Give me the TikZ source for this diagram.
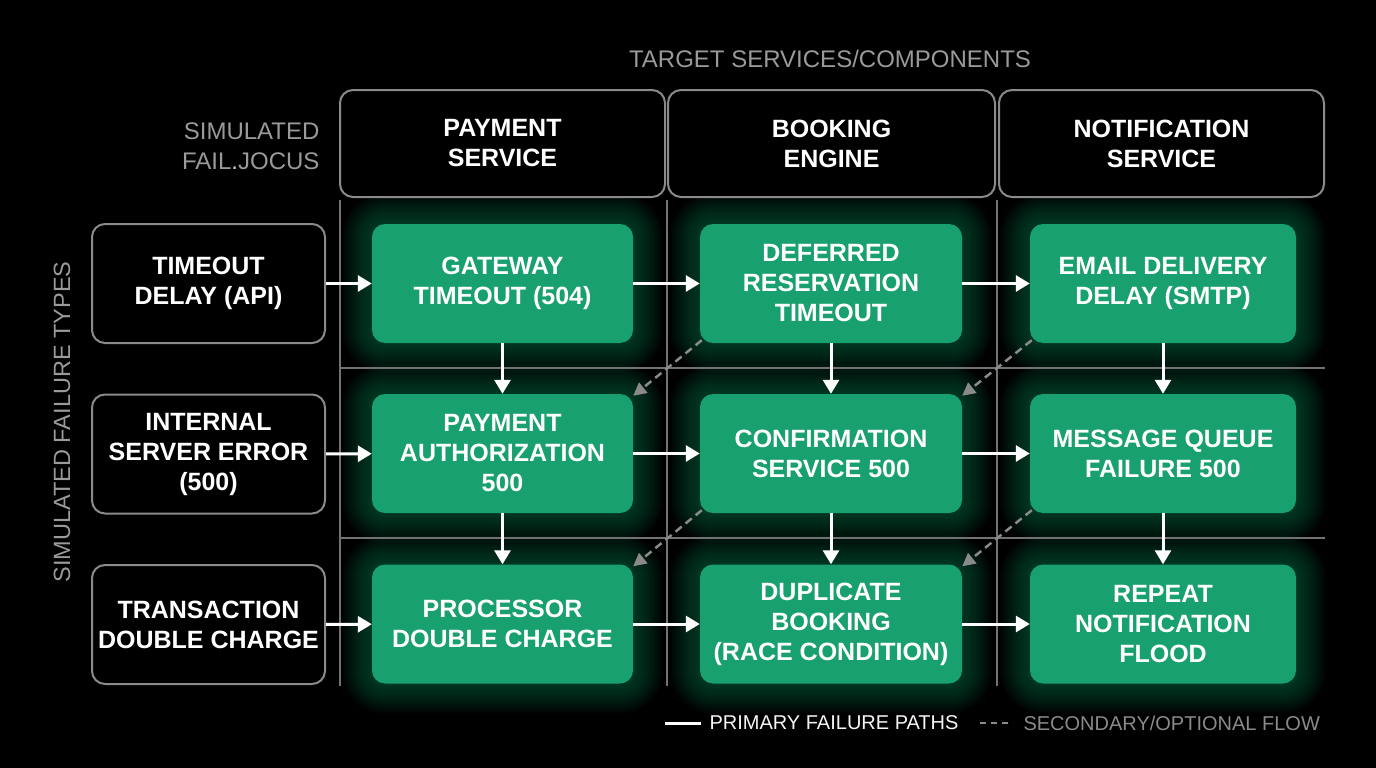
\documentclass[tikz,border=0pt]{standalone}
\usepackage{fontspec}
\setmainfont{Liberation Sans}
\usetikzlibrary{arrows.meta,calc}
\definecolor{boxgreen}{HTML}{18A06E}
\definecolor{glowg}{HTML}{10A068}
\definecolor{lgray}{HTML}{8A8A8A}
\definecolor{gridgray}{HTML}{727272}
\definecolor{txtgray}{HTML}{9A9A9A}
\pgfdeclarelayer{glowlayer}
\pgfsetlayers{glowlayer,main}
\tikzset{
 bigtxt/.style={font=\fontsize{25}{30}\selectfont\bfseries},
 hdr/.style={draw=lgray, line width=2pt, rounded corners=13pt, fill=black, text=white, bigtxt, align=center, minimum width=325pt, minimum height=107pt, inner sep=0pt},
 rowlbl/.style={draw=lgray, line width=2pt, rounded corners=13pt, fill=black, text=white, bigtxt, align=center, minimum width=233pt, minimum height=119pt, inner sep=0pt},
 gbox/.style={fill=boxgreen, rounded corners=13pt, text=white, bigtxt, align=center, minimum height=119pt, inner sep=0pt},
 parrow/.style={white, line width=3pt, -{Triangle[length=14pt,width=16pt]}},
 sarrow/.style={lgray, line width=2.5pt, dash pattern=on 8pt off 5pt, -{Triangle[length=13pt,width=13pt]}},
 gridl/.style={gridgray, line width=1.4pt},
 graytxt/.style={text=txtgray, font=\fontsize{24}{30}\selectfont},
}
\newcommand{\glowbox}[1]{%
 \begin{pgfonlayer}{glowlayer}
 \foreach \r in {2,4,...,30}{
  \fill[glowg, opacity=0.032, rounded corners={13pt+\r pt}] ($(#1.south west)+(-\r,\r)$) rectangle ($(#1.north east)+(\r,-\r)$);
 }
 \end{pgfonlayer}}
\begin{document}
\begin{tikzpicture}[x=1pt,y=-1pt]
\begin{pgfonlayer}{glowlayer}
\fill[black] (0,0) rectangle (1376,768);
\end{pgfonlayer}
\useasboundingbox (0,0) rectangle (1376,768);

% grid lines
\coordinate (v1t) at (340,200); \coordinate (v1b) at (340,686);
\coordinate (v2t) at (667,200); \coordinate (v2b) at (667,686);
\coordinate (v3t) at (997,200); \coordinate (v3b) at (997,686);
\coordinate (h1l) at (340,368); \coordinate (h1r) at (1325,368);
\coordinate (h2l) at (340,538); \coordinate (h2r) at (1325,538);
\draw[gridl] (v1t) -- (v1b);
\draw[gridl] (v2t) -- (v2b);
\draw[gridl] (v3t) -- (v3b);
\draw[gridl] (h1l) -- (h1r);
\draw[gridl] (h2l) -- (h2r);

% titles
\node[graytxt] (title) at (830,59) {TARGET SERVICES/COMPONENTS};
\node[graytxt, anchor=east, align=right] (corner) at (323,146) {SIMULATED\\FAIL{\color{txtgray!50}.}JOCUS};
\node[graytxt, font=\fontsize{23.5}{28}\selectfont, rotate=90] (ylab) at (62,422) {SIMULATED FAILURE TYPES};

% headers
\node[hdr] (h1) at (502.5,143.5) {PAYMENT\\SERVICE};
\node[hdr, minimum width=327pt] (h2) at (831.5,143.5) {BOOKING\\ENGINE};
\node[hdr] (h3) at (1161.5,143.5) {NOTIFICATION\\SERVICE};

% row labels
\node[rowlbl] (r1) at (208.5,283.5) {TIMEOUT\\DELAY (API)};
\node[rowlbl] (r2) at (208.5,454) {INTERNAL\\SERVER ERROR\\(500)};
\node[rowlbl] (r3) at (208.5,624.5) {TRANSACTION\\DOUBLE CHARGE};

% green boxes
\node[gbox, minimum width=261pt] (g11) at (502.5,283.5) {GATEWAY\\TIMEOUT (504)};
\node[gbox, minimum width=262pt] (g12) at (831,283.5) {DEFERRED\\RESERVATION\\TIMEOUT};
\node[gbox, minimum width=266pt] (g13) at (1163,283.5) {EMAIL DELIVERY\\DELAY (SMTP)};
\node[gbox, minimum width=261pt] (g21) at (502.5,453.5) {PAYMENT\\AUTHORIZATION\\500};
\node[gbox, minimum width=262pt] (g22) at (831,453.5) {CONFIRMATION\\SERVICE 500};
\node[gbox, minimum width=266pt] (g23) at (1163,453.5) {MESSAGE QUEUE\\FAILURE 500};
\node[gbox, minimum width=261pt] (g31) at (502.5,624) {PROCESSOR\\DOUBLE CHARGE};
\node[gbox, minimum width=262pt] (g32) at (831,624) {DUPLICATE\\BOOKING\\(RACE CONDITION)};
\node[gbox, minimum width=266pt] (g33) at (1163,624) {REPEAT\\NOTIFICATION\\FLOOD};
\foreach \n in {g11,g12,g13,g21,g22,g23,g31,g32,g33}{\glowbox{\n}}

% primary arrows
\draw[parrow] (r1) -- (g11);
\draw[parrow] (g11) -- (g12);
\draw[parrow] (g12) -- (g13);
\draw[parrow] (r2) -- (g21);
\draw[parrow] (g21) -- (g22);
\draw[parrow] (g22) -- (g23);
\draw[parrow] (r3) -- (g31);
\draw[parrow] (g31) -- (g32);
\draw[parrow] (g32) -- (g33);
\draw[parrow] (g11) -- (g21);
\draw[parrow] (g21) -- (g31);
\draw[parrow] (g12) -- (g22);
\draw[parrow] (g22) -- (g32);
\draw[parrow] (g13) -- (g23);
\draw[parrow] (g23) -- (g33);

% secondary arrows
\draw[sarrow] ($(g12.south west)+(2,-3)$) -- ($(g21.north east)+(0,2)$);
\draw[sarrow] ($(g13.south west)+(2,-3)$) -- ($(g22.north east)+(0,2)$);
\draw[sarrow] ($(g22.south west)+(2,-3)$) -- ($(g31.north east)+(0,2)$);
\draw[sarrow] ($(g23.south west)+(2,-3)$) -- ($(g32.north east)+(0,2)$);

% legend
\coordinate (la) at (665,723); \coordinate (lb) at (701,723);
\draw[white, line width=3pt] (la) -- (lb);
\node[anchor=west, text=white!92!gray, font=\fontsize{20}{22}\selectfont] (leg1) at (706,723) {PRIMARY FAILURE PATHS};
\coordinate (lc) at (980,723); \coordinate (ld) at (1013,723);
\draw[lgray, line width=2.5pt, dash pattern=on 6pt off 5pt] (lc) -- (ld);
\node[anchor=west, text=lgray, font=\fontsize{20}{22}\selectfont] (leg2) at (1020,723) {SECONDARY/OPTIONAL FLOW};
\end{tikzpicture}
\end{document}
